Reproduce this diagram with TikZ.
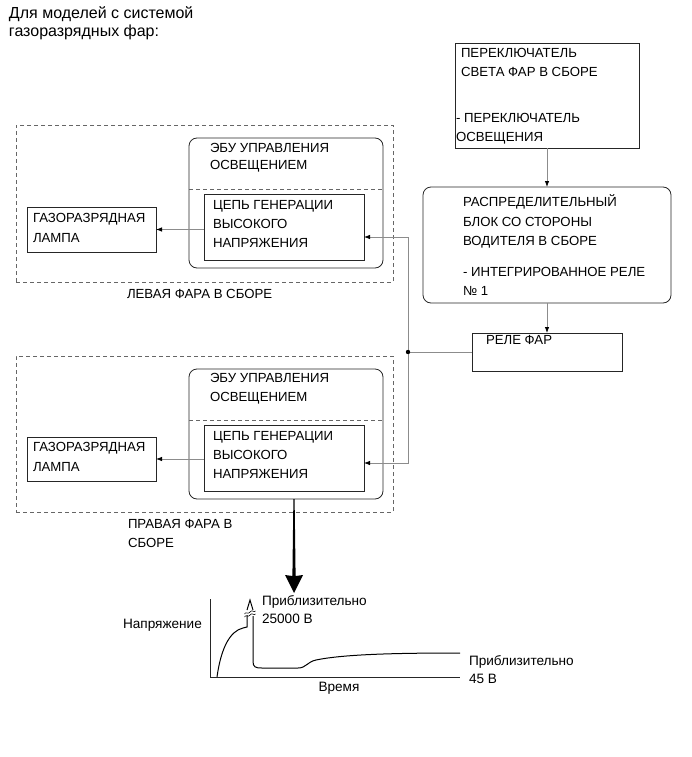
\documentclass[tikz,border=0pt]{standalone}
\usepackage{fontspec}
\setmainfont{Liberation Sans}
\usetikzlibrary{arrows.meta,calc}
\begin{document}
\begin{tikzpicture}[x=1pt,y=-1pt,
  box/.style={draw=black!85, line width=0.8pt, inner sep=0, outer sep=0, anchor=north west},
  rbox/.style={box, rounded corners=8pt},
  dbox/.style={draw=black!60, dash pattern=on 4pt off 3pt, line width=0.8pt, inner sep=0, outer sep=0, anchor=north west},
  txt/.style={anchor=base west, inner sep=0, outer sep=0, align=left, font=\fontsize{13.2}{19}\selectfont},
  gtxt/.style={txt, font=\fontsize{13.6}{18}\selectfont},
  wire/.style={draw=black!45, line width=0.8pt},
  conn/.style={wire, -{Latex[length=6pt,width=4.5pt,color=black]}},
  axis/.style={draw=black!85, line width=0.8pt},
  curve/.style={draw=black, line width=1pt}
]
\useasboundingbox (0,0) rectangle (691,757);

% title (base anchor = last line baseline)
\node[txt, font=\fontsize{16}{17.5}\selectfont] (title) at (9,36.5) {Для моделей с системой\\газоразрядных фар:};

% right column
\node[box, minimum width=184pt, minimum height=105pt] (sw) at (455,43) {};
\node[txt] (swt1) at (461,77) {ПЕРЕКЛЮЧАТЕЛЬ\\СВЕТА ФАР В СБОРЕ};
\node[txt] (swt2) at (456,141) {- ПЕРЕКЛЮЧАТЕЛЬ\\ОСВЕЩЕНИЯ};

\node[rbox, minimum width=248pt, minimum height=116pt] (dist) at (423,187) {};
\node[txt, font=\fontsize{13.2}{19.5}\selectfont] (distt1) at (463,245.5) {РАСПРЕДЕЛИТЕЛЬНЫЙ\\БЛОК СО СТОРОНЫ\\ВОДИТЕЛЯ В СБОРЕ};
\node[txt] (distt2) at (463,295) {- ИНТЕГРИРОВАННОЕ РЕЛЕ\\№ 1};

\node[box, minimum width=150pt, minimum height=38pt] (relay) at (472,333) {};
\node[txt] (relayt) at (486,344.5) {РЕЛЕ ФАР};

% left headlamp
\node[dbox, minimum width=377pt, minimum height=157pt] (dashL) at (16,125) {};
\node[rbox, minimum width=194pt, minimum height=130pt] (ecuL) at (189,138) {};
\node[txt, font=\fontsize{13.2}{17}\selectfont] (ecuLt) at (210,169.5) {ЭБУ УПРАВЛЕНИЯ\\ОСВЕЩЕНИЕМ};
\draw[draw=black!60, dash pattern=on 4pt off 3pt, line width=0.8pt] (ecuL.west |- 0,189) -- (ecuL.east |- 0,189);
\node[box, minimum width=160pt, minimum height=66pt] (hvL) at (204,194) {};
\node[txt] (hvLt) at (213,247.5) {ЦЕПЬ ГЕНЕРАЦИИ\\ВЫСОКОГО\\НАПРЯЖЕНИЯ};
\node[box, minimum width=129pt, minimum height=45pt] (lampL) at (27,207) {};
\node[txt, font=\fontsize{13.2}{20}\selectfont] (lampLt) at (33,242) {ГАЗОРАЗРЯДНАЯ\\ЛАМПА};
\node[txt] (dashLt) at (127,298.5) {ЛЕВАЯ ФАРА В СБОРЕ};

% right headlamp
\node[dbox, minimum width=377pt, minimum height=156pt] (dashR) at (16,356) {};
\node[rbox, minimum width=194pt, minimum height=130pt] (ecuR) at (189,369) {};
\node[txt] (ecuRt) at (210,401.5) {ЭБУ УПРАВЛЕНИЯ\\ОСВЕЩЕНИЕМ};
\draw[draw=black!60, dash pattern=on 4pt off 3pt, line width=0.8pt] (ecuR.west |- 0,420) -- (ecuR.east |- 0,420);
\node[box, minimum width=160pt, minimum height=66pt] (hvR) at (204,425) {};
\node[txt] (hvRt) at (213,478.5) {ЦЕПЬ ГЕНЕРАЦИИ\\ВЫСОКОГО\\НАПРЯЖЕНИЯ};
\node[box, minimum width=129pt, minimum height=44pt] (lampR) at (27,437) {};
\node[txt, font=\fontsize{13.2}{20}\selectfont] (lampRt) at (33,471.5) {ГАЗОРАЗРЯДНАЯ\\ЛАМПА};
\node[txt] (dashRt) at (128,547.5) {ПРАВАЯ ФАРА В\\СБОРЕ};

% connectors
\draw[conn] (sw.south) -- (dist.north);
\draw[conn] (dist.south) -- (relay.north);
\coordinate (j) at (408,352);
\coordinate (inL) at (364,237);
\coordinate (inR) at (364,463);
\draw[wire] (relay.west) -- (j);
\draw[conn] (j) |- (inL);
\draw[conn] (j) |- (inR);
\fill[black] (j) circle (2.2pt);
\draw[conn] (hvL.west |- lampL.east) -- (lampL.east);
\draw[conn] (hvR.west |- lampR.east) -- (lampR.east);

% big arrow
\coordinate (bigA) at (294,499);
\coordinate (bigB) at (294,593);
\fill[black] ($(bigA)+(-0.6,0)$) -- ($(bigA)+(0.6,0)$) -- ($(bigB)+(1.6,-17)$) -- ($(bigB)+(9,-18)$) -- (bigB) -- ($(bigB)+(-9,-18)$) -- ($(bigB)+(-1.6,-17)$) -- cycle;

% graph
\coordinate (o) at (210,677);
\draw[axis] (210,599) -- (o) -- (460,677);
\node[gtxt] (ylab) at (123,628) {Напряжение};
\node[anchor=base, inner sep=0, font=\fontsize{13.6}{18}\selectfont] (xlab) at (339,691) {Время};
\node[gtxt] (peakt) at (262,623) {Приблизительно\\25000 В};
\node[gtxt] (endt) at (469,683) {Приблизительно\\45 В};
\draw[curve] (217,677) .. controls (221,648) and (230,631) .. (243,628) -- (247,627) -- (247,615);
\draw[curve] (247,610) -- (250,600) -- (253,610);
\draw[curve] (253,616) -- (253,661) .. controls (253,667) and (255,668) .. (262,668) -- (298,668) .. controls (306,668) and (307,662) .. (316,660) .. controls (345,654) and (400,653) .. (460,653);
\draw[line width=0.6pt] (244.5,614) .. controls (246,611) and (248,615) .. (250,612) .. controls (252,609) and (254,613) .. (255.5,611);
\draw[line width=0.6pt] (244.5,617) .. controls (246,614) and (248,618) .. (250,615) .. controls (252,612) and (254,616) .. (255.5,614);
\end{tikzpicture}
\end{document}
